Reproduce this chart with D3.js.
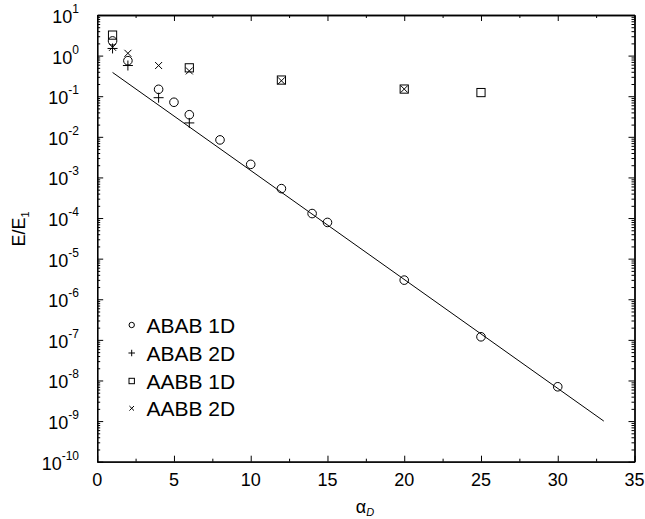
<!DOCTYPE html>
<html>
<head>
<meta charset="utf-8">
<script src="https://cdn.jsdelivr.net/npm/d3@7"></script>
<style>
  html, body { margin: 0; padding: 0; background: #fff; }
  svg { display: block; font-family: "Liberation Sans", Arial, sans-serif; }
</style>
</head>
<body>
<svg id="chart" width="645" height="519"></svg>
<script>
// Energy ratio E/E1 against alpha_D for four stacking configurations
const abab1dX = [1, 2, 4, 5, 6, 8, 10, 12, 14, 15, 20, 25, 30];
const abab1dY = [2.3, 0.75, 0.148, 0.071, 0.035, 0.0084, 0.0021, 5.3e-4, 1.29e-4, 7.8e-5, 2.96e-6, 1.19e-7, 7.0e-9];
const abab2dX = [1, 2, 4, 6];
const abab2dY = [1.5, 0.57, 0.092, 0.022];
const aabb1dX = [1, 6, 12, 20, 25];
const aabb1dY = [3.2, 0.5, 0.25, 0.15, 0.123];
const aabb2dX = [1, 2, 4, 6, 12, 20];
const aabb2dY = [1.6, 1.14, 0.57, 0.42, 0.24, 0.15];
// exponential fit line endpoints
const fitX = [1, 33];
const fitY = [0.385, 1.0e-9];

const xTicks = [0, 5, 10, 15, 20, 25, 30, 35];
const xMinorTicks = [2.5, 7.5, 12.5, 17.5, 22.5, 27.5, 32.5];
const yExponents = d3.range(-10, 2);
const legendLabels = ["ABAB 1D", "ABAB 2D", "AABB 1D", "AABB 2D"];

const svg = d3.select("#chart");
const L = 97.2, R = 634.5, T = 15, B = 461.7;

const x = d3.scaleLinear().domain([0, 35]).range([L, R]);
const y = d3.scaleLog().domain([1e-10, 10]).range([B, T]);

const yMajor = yExponents.map(e => Math.pow(10, e));
const yMinor = [];
yExponents.slice(0, -1).forEach(e => {
  for (let k = 2; k <= 9; k++) yMinor.push(k * Math.pow(10, e));
});

// frame + inward ticks on all four sides
function tickAxis(axisFn, scale, values, size, transform) {
  svg.append("g")
    .attr("transform", transform)
    .call(axisFn(scale).tickValues(values).tickSize(-size).tickSizeOuter(0).tickFormat(""))
    .call(g => g.selectAll("line").attr("stroke", "#000").attr("stroke-width", 1))
    .call(g => g.select(".domain").attr("stroke", "#000").attr("stroke-width", 1.3));
}
tickAxis(d3.axisBottom, x, xTicks, 6, `translate(0,${B})`);
tickAxis(d3.axisBottom, x, xMinorTicks, 3, `translate(0,${B})`);
tickAxis(d3.axisTop, x, xTicks, 6, `translate(0,${T})`);
tickAxis(d3.axisTop, x, xMinorTicks, 3, `translate(0,${T})`);
tickAxis(d3.axisLeft, y, yMajor, 6, `translate(${L},0)`);
tickAxis(d3.axisLeft, y, yMinor, 3, `translate(${L},0)`);
tickAxis(d3.axisRight, y, yMajor, 6, `translate(${R},0)`);
tickAxis(d3.axisRight, y, yMinor, 3, `translate(${R},0)`);

// x tick labels
svg.append("g").selectAll("text").data(xTicks).join("text")
  .attr("x", d => x(d)).attr("y", 486)
  .attr("text-anchor", "middle").attr("font-size", 18).attr("fill", "#000")
  .text(d => d);

// y tick labels as powers of ten
const yl = svg.append("g").selectAll("text").data(yExponents).join("text")
  .attr("x", 79).attr("y", d => y(Math.pow(10, d)) + 8)
  .attr("text-anchor", "end").attr("font-size", 18).attr("fill", "#000");
yl.append("tspan").text("10");
yl.append("tspan").attr("font-size", 12).attr("dy", -10).text(d => String(d));

// axis titles
const xt = svg.append("text").attr("x", 365).attr("y", 513)
  .attr("text-anchor", "middle").attr("font-size", 18).attr("fill", "#000");
xt.append("tspan").text("α");
xt.append("tspan").attr("font-size", 11).attr("font-style", "italic").attr("dy", 3).text("D");

const yt = svg.append("text")
  .attr("transform", "translate(25,229) rotate(-90)")
  .attr("text-anchor", "middle").attr("font-size", 18).attr("fill", "#000");
yt.append("tspan").text("E/E");
yt.append("tspan").attr("font-size", 11).attr("dy", 4).text("1");

// fit line
const fit = fitX.map((d, i) => [d, fitY[i]]);
svg.append("path")
  .attr("d", d3.line().x(d => x(d[0])).y(d => y(d[1]))(fit))
  .attr("fill", "none").attr("stroke", "#000").attr("stroke-width", 1);

// marker drawing helpers
function circleMark(g, cx, cy, s) {
  g.append("circle").attr("cx", cx).attr("cy", cy).attr("r", s / 2)
    .attr("fill", "none").attr("stroke", "#000").attr("stroke-width", 1);
}
function plusMark(g, cx, cy, s) {
  const h = s / 2;
  g.append("path").attr("d", `M${cx - h},${cy}H${cx + h}M${cx},${cy - h}V${cy + h}`)
    .attr("stroke", "#000").attr("stroke-width", 1).attr("fill", "none");
}
function squareMark(g, cx, cy, s) {
  g.append("rect").attr("x", cx - s / 2).attr("y", cy - s / 2).attr("width", s).attr("height", s)
    .attr("fill", "none").attr("stroke", "#000").attr("stroke-width", 1);
}
function crossMark(g, cx, cy, s) {
  const h = s / 2;
  g.append("path").attr("d", `M${cx - h},${cy - h}L${cx + h},${cy + h}M${cx - h},${cy + h}L${cx + h},${cy - h}`)
    .attr("stroke", "#000").attr("stroke-width", 1).attr("fill", "none");
}

const series = [
  { xs: abab1dX, ys: abab1dY, mark: circleMark, size: 8.6, legSize: 5.4 },
  { xs: abab2dX, ys: abab2dY, mark: plusMark, size: 10, legSize: 6.5 },
  { xs: aabb1dX, ys: aabb1dY, mark: squareMark, size: 8.2, legSize: 5.4 },
  { xs: aabb2dX, ys: aabb2dY, mark: crossMark, size: 7, legSize: 4.6 }
];

const marks = svg.append("g");
series.forEach(s => {
  s.xs.forEach((xv, i) => s.mark(marks, x(xv), y(s.ys[i]), s.size));
});

// legend
const leg = svg.append("g");
const legY = [325, 353, 381, 408.3];
series.forEach((s, i) => {
  s.mark(leg, 131.7, legY[i], s.legSize);
  leg.append("text").attr("x", 146.5).attr("y", legY[i] + 7.5)
    .attr("font-size", 21).attr("fill", "#000").text(legendLabels[i]);
});
</script>
</body>
</html>
